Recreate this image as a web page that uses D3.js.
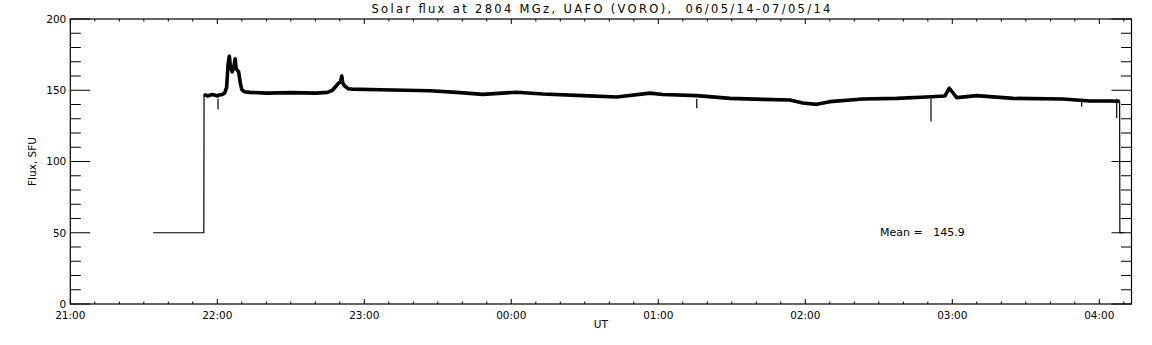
<!DOCTYPE html>
<html>
<head>
<meta charset="utf-8">
<script src="https://cdn.jsdelivr.net/npm/d3@7"></script>
<style>
    body { margin: 0; background: #fff; }
    text { font-family: "DejaVu Sans", sans-serif; fill: #000; }
</style>
</head>
<body>
<div id="chart"></div>
<script>
// minutes after 21:00 UT, 06/05/14
let timeMin = [33.8, 54.5, 54.6, 56, 58, 60.2, 60.4, 62, 63.0, 63.8, 64.4, 64.9, 65.4, 66.1, 66.7, 67.3, 67.7,
    68.7, 69.4, 70.0, 71, 73.3, 80, 90, 100, 105, 107, 108.5, 109.5, 110.3, 110.8, 111.2, 112, 113.5, 115,
    126.4, 146.8, 157.7, 168.4, 182.2, 192.9, 209.3, 223, 236.6, 241.9, 255.7, 269.3, 282.7, 293.7, 299,
    304.7, 310, 323.5, 337.3, 349.5, 357, 358.8, 361.8, 370, 384.8, 405.2, 416.2, 424.3, 428.3, 428.4, 430];
// flux, SFU
let flux = [50, 50, 147, 146, 147, 146, 146.5, 147, 148, 152, 168, 174, 166, 163, 166, 172, 165,
    163, 155, 150.5, 149, 148.5, 148, 148.3, 148, 148.5, 150, 153, 155, 156, 160, 155, 153, 151, 150.8,
    150.4, 149.7, 148.5, 147.1, 148.6, 147.4, 146.2, 145.3, 148, 147, 146.2, 144.3, 143.6, 143.2, 141,
    140.1, 142, 143.9, 144.3, 145.3, 146, 151.4, 144.8, 146.2, 144.3, 143.9, 142.5, 142.5, 142.3, 50, 50];

// short downward spikes in the record
let spikeMin = [60.3, 255.7, 351.3, 412.8, 427.1];
let spikeLow = [136.6, 137.3, 128, 138.5, 130.5];

let hourLabels = ["21:00", "22:00", "23:00", "00:00", "01:00", "02:00", "03:00", "04:00"];
let yTicks = [0, 50, 100, 150, 200];
let meanFlux = 145.9;

let W = 1152, H = 345;
let margin = {top: 19, right: 20.5, bottom: 41, left: 70.3};
let width = W - margin.left - margin.right;
let height = H - margin.top - margin.bottom;

let svg = d3.select("#chart").append("svg")
    .attr("width", W)
    .attr("height", H);

let g = svg.append("g")
    .attr("transform", "translate(" + margin.left + "," + margin.top + ")");

// x runs 21:00 .. ~04:13
let x = d3.scaleLinear()
    .domain([0, width / 2.45])
    .range([0, width]);

let y = d3.scaleLinear()
    .domain([0, 200])
    .range([height, 0]);

let majorX = hourLabels.map((d, i) => i * 60);
let minorX = d3.range(0, x.domain()[1], 10);
let minorY = d3.range(0, 201, 10);

// frame
g.append("rect")
    .attr("width", width)
    .attr("height", height)
    .attr("fill", "none")
    .attr("stroke", "#000")
    .attr("stroke-width", 1.2);

// x ticks, bottom and top
let tickG = g.append("g").attr("stroke", "#000").attr("stroke-width", 1);
minorX.forEach(function(m) {
    let major = majorX.indexOf(m) >= 0;
    let len = major ? 5 : 2.5;
    tickG.append("line").attr("x1", x(m)).attr("x2", x(m)).attr("y1", height).attr("y2", height - len);
    tickG.append("line").attr("x1", x(m)).attr("x2", x(m)).attr("y1", 0).attr("y2", len);
});

// y ticks, left and right
minorY.forEach(function(v) {
    let major = v % 50 == 0;
    let len = major ? 20 : 10.5;
    tickG.append("line").attr("x1", 0).attr("x2", len).attr("y1", y(v)).attr("y2", y(v));
    tickG.append("line").attr("x1", width).attr("x2", width - len).attr("y1", y(v)).attr("y2", y(v));
});

// tick labels
g.selectAll(".xlab")
    .data(hourLabels)
    .enter().append("text")
    .attr("class", "xlab")
    .attr("x", (d, i) => x(majorX[i]))
    .attr("y", height + 15)
    .attr("text-anchor", "middle")
    .style("font-size", "10.5px")
    .text(d => d);

g.selectAll(".ylab")
    .data(yTicks)
    .enter().append("text")
    .attr("class", "ylab")
    .attr("x", -4)
    .attr("y", d => y(d) + 3.8)
    .attr("text-anchor", "end")
    .style("font-size", "10.5px")
    .text(d => d);

// axis titles
g.append("text")
    .attr("x", width / 2)
    .attr("y", height + 23.5)
    .attr("text-anchor", "middle")
    .style("font-size", "10.5px")
    .text("UT");

g.append("text")
    .attr("transform", "translate(-34," + height / 2 + ") rotate(-90)")
    .attr("text-anchor", "middle")
    .style("font-size", "10.5px")
    .text("Flux, SFU");

svg.append("text")
    .attr("x", margin.left + width / 2)
    .attr("y", 12.5)
    .attr("text-anchor", "middle")
    .attr("textLength", 459)
    .attr("lengthAdjust", "spacing")
    .style("font-size", "11.5px")
    .style("white-space", "pre")
    .text("Solar flux at 2804 MGz, UAFO (VORO),  06/05/14-07/05/14");

// data
let series = timeMin.map((t, i) => ({t: t, v: flux[i]}));
let line = d3.line()
    .x(d => x(d.t))
    .y(d => y(d.v));

// thin trace: the calibration steps at 50 SFU
g.append("path")
    .datum(series)
    .attr("fill", "none")
    .attr("stroke", "#000")
    .attr("stroke-width", 1.2)
    .attr("d", line);

// noisy record drawn as a thick band
g.append("path")
    .datum(series.filter(d => d.v > 100))
    .attr("fill", "none")
    .attr("stroke", "#000")
    .attr("stroke-width", 3.6)
    .attr("stroke-linejoin", "round")
    .attr("d", line);

g.selectAll(".spike")
    .data(spikeMin)
    .enter().append("line")
    .attr("class", "spike")
    .attr("x1", d => x(d))
    .attr("x2", d => x(d))
    .attr("y1", (d, i) => y(144))
    .attr("y2", (d, i) => y(spikeLow[i]))
    .attr("stroke", "#000")
    .attr("stroke-width", 1.2);

// mean annotation
g.append("text")
    .attr("x", x(330.5))
    .attr("y", y(50) + 3.5)
    .style("font-size", "11px")
    .style("white-space", "pre")
    .text("Mean =   " + meanFlux.toFixed(1));
</script>
</body>
</html>
